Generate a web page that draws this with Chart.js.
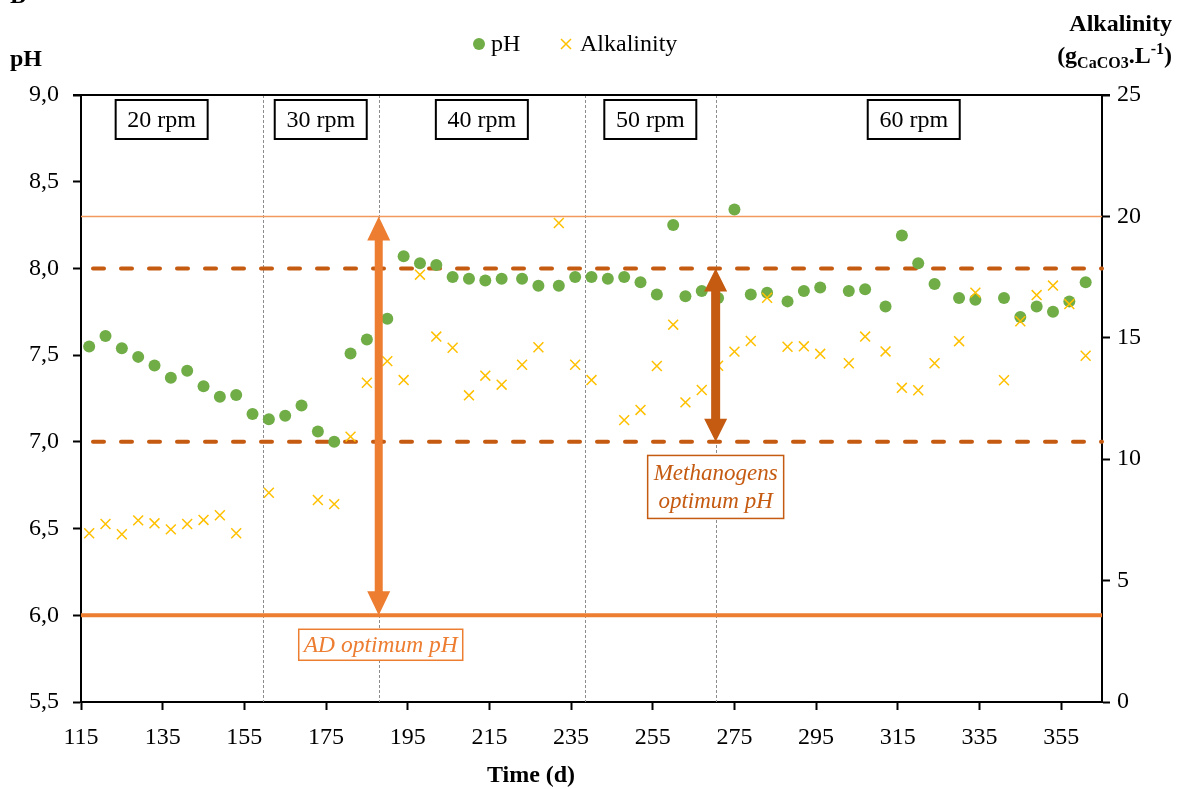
<!DOCTYPE html>
<html>
<head>
<meta charset="utf-8">
<script src="https://cdn.jsdelivr.net/npm/chart.js@4.4.1/dist/chart.umd.min.js"></script>
<style>body{margin:0;background:#fff}</style>
</head>
<body>
<canvas id="vis" width="1186" height="789"></canvas>
<script>
// sampling days (d)
const days = [117,121,125,129,133,137,141,145,149,153,157,161,165,169,173,177,181,185,190,194,
  198,202,206,210,214,218,223,227,232,236,240,244,248,252,256,260,263,267,271,275,
  279,283,288,292,296,303,307,312,316,320,324,330,334,341,345,349,353,357,361];
const ph = [7.55,7.61,7.54,7.49,7.44,7.37,7.41,7.32,7.26,7.27,7.16,7.13,7.15,7.21,7.06,7.00,7.51,7.59,7.71,8.07,
  8.03,8.02,7.95,7.94,7.93,7.94,7.94,7.90,7.90,7.95,7.95,7.94,7.95,7.92,7.85,8.25,7.84,7.87,7.83,8.34,
  7.85,7.86,7.81,7.87,7.89,7.87,7.88,7.78,8.19,8.03,7.91,7.83,7.82,7.83,7.72,7.78,7.75,7.81,7.92];
const alkalinity = [6.95,7.33,6.91,7.48,7.36,7.11,7.33,7.50,7.69,6.95,null,8.62,null,null,8.32,8.15,10.93,13.15,14.04,13.26,
  17.60,15.05,14.59,12.63,13.44,13.07,13.89,14.61,19.73,13.89,13.26,null,11.61,12.03,13.84,15.54,12.34,12.85,13.85,14.43,
  14.87,16.65,14.63,14.65,14.34,13.95,15.05,14.44,12.94,12.84,13.95,14.86,16.86,13.25,15.68,16.76,17.15,16.39,14.26];
const xTicks = [115,135,155,175,195,215,235,255,275,295,315,335,355];
const phases = ['20 rpm','30 rpm','40 rpm','50 rpm','60 rpm'];
const phaseBounds = [110,159.5,187.9,238.4,270.4,367.4];
// pH ranges
const adRange = [6.0, 8.3];
const methRange = [7.0, 8.0];

const SERIF = "'Liberation Serif', 'Times New Roman', serif";
const ORANGE = '#ED7D31';
const DARK = '#C55A11';

function arrow(ctx, px, y1, y2, shaft, headW, headL, color) {
  ctx.fillStyle = color;
  ctx.beginPath();
  ctx.moveTo(px, y1);
  ctx.lineTo(px + headW / 2, y1 + headL);
  ctx.lineTo(px + shaft / 2, y1 + headL);
  ctx.lineTo(px + shaft / 2, y2 - headL);
  ctx.lineTo(px + headW / 2, y2 - headL);
  ctx.lineTo(px, y2);
  ctx.lineTo(px - headW / 2, y2 - headL);
  ctx.lineTo(px - shaft / 2, y2 - headL);
  ctx.lineTo(px - shaft / 2, y1 + headL);
  ctx.lineTo(px - headW / 2, y1 + headL);
  ctx.closePath();
  ctx.fill();
}

function textBox(ctx, lines, cx, cy, w, h, color, font, lw) {
  ctx.fillStyle = '#fff';
  ctx.fillRect(cx - w / 2, cy - h / 2, w, h);
  ctx.strokeStyle = color;
  ctx.lineWidth = lw;
  ctx.strokeRect(cx - w / 2, cy - h / 2, w, h);
  ctx.fillStyle = color;
  ctx.font = font;
  ctx.textAlign = 'center';
  ctx.textBaseline = 'middle';
  const lh = 28;
  lines.forEach((t, i) => ctx.fillText(t, cx, cy + (i - (lines.length - 1) / 2) * lh + 1));
}

const annot = {
  id: 'annot',
  beforeDatasetsDraw(chart) {
    const {ctx, chartArea: a, scales: {x, y}} = chart;
    ctx.save();
    // phase dividers
    ctx.strokeStyle = '#8C8C8C';
    ctx.lineWidth = 1;
    ctx.setLineDash([3, 2]);
    phaseBounds.slice(1, -1).forEach(d => {
      const px = Math.round(x.getPixelForValue(d)) + 0.5;
      ctx.beginPath(); ctx.moveTo(px, a.top); ctx.lineTo(px, a.bottom); ctx.stroke();
    });
    ctx.setLineDash([]);
    // AD optimum range
    ctx.strokeStyle = '#F29A5E';
    ctx.lineWidth = 1.5;
    let py = y.getPixelForValue(adRange[1]);
    ctx.beginPath(); ctx.moveTo(a.left, py); ctx.lineTo(a.right, py); ctx.stroke();
    ctx.strokeStyle = ORANGE;
    ctx.lineWidth = 4;
    py = y.getPixelForValue(adRange[0]);
    ctx.beginPath(); ctx.moveTo(a.left, py); ctx.lineTo(a.right, py); ctx.stroke();
    // methanogens range
    ctx.strokeStyle = DARK;
    ctx.lineWidth = 4;
    ctx.lineCap = 'round';
    ctx.setLineDash([11, 17]);
    methRange.forEach(v => {
      const p = y.getPixelForValue(v);
      ctx.beginPath(); ctx.moveTo(a.left + 12, p); ctx.lineTo(a.right, p); ctx.stroke();
    });
    ctx.restore();
  },
  afterDatasetsDraw(chart) {
    const {ctx, chartArea: a, scales: {x, y}} = chart;
    ctx.save();
    const ax = x.getPixelForValue(phaseBounds[2]);
    arrow(ctx, ax, y.getPixelForValue(adRange[1]), y.getPixelForValue(adRange[0]), 8, 23, 24, ORANGE);
    const mx = x.getPixelForValue(phaseBounds[4]);
    arrow(ctx, mx, y.getPixelForValue(methRange[1]), y.getPixelForValue(methRange[0]), 9, 23, 23, DARK);
    textBox(ctx, ['AD optimum pH'], ax + 2, y.getPixelForValue(5.83), 164, 31, ORANGE, 'italic 23.5px ' + SERIF, 1.5);
    textBox(ctx, ['Methanogens', 'optimum pH'], mx, y.getPixelForValue(6.74), 136, 63, DARK, 'italic 23px ' + SERIF, 1.5);
    // rpm labels
    phases.forEach((t, i) => {
      const cx = x.getPixelForValue((phaseBounds[i] + phaseBounds[i + 1]) / 2);
      textBox(ctx, [t], cx, a.top + 24.5, 92, 39, '#000', '24px ' + SERIF, 2);
    });
    ctx.restore();
  },
  afterDraw(chart) {
    const {ctx, chartArea: a} = chart;
    ctx.save();
    ctx.strokeStyle = '#000';
    ctx.lineWidth = 2;
    ctx.beginPath(); ctx.moveTo(a.left - 8, a.top); ctx.lineTo(a.right + 8, a.top); ctx.stroke();
    // legend
    ctx.fillStyle = '#70AD47';
    ctx.beginPath(); ctx.arc(479, 44, 6, 0, Math.PI * 2); ctx.fill();
    ctx.strokeStyle = '#FFC000';
    ctx.lineWidth = 1.5;
    ctx.beginPath();
    ctx.moveTo(561, 39); ctx.lineTo(571, 49);
    ctx.moveTo(571, 39); ctx.lineTo(561, 49);
    ctx.stroke();
    ctx.fillStyle = '#000';
    ctx.font = '24px ' + SERIF;
    ctx.textAlign = 'left';
    ctx.textBaseline = 'middle';
    ctx.fillText('pH', 491, 45);
    ctx.fillText('Alkalinity', 580, 45);
    // titles
    ctx.font = 'bold 24px ' + SERIF;
    ctx.textBaseline = 'alphabetic';
    ctx.fillText('B', 10, 3);
    ctx.fillText('pH', 10, 66);
    ctx.textAlign = 'center';
    ctx.fillText('Time (d)', 531, 782);
    ctx.textAlign = 'right';
    ctx.fillText('Alkalinity', 1172, 31);
    // (gCaCO3.L-1)
    const parts = [
      ['(g', 'bold 24px ', 0], ['CaCO3', 'bold 16px ', 5], ['.L', 'bold 24px ', 0],
      ['-1', 'bold 16px ', -9], [')', 'bold 24px ', 0]
    ];
    ctx.textAlign = 'left';
    let w = 0;
    parts.forEach(p => { ctx.font = p[1] + SERIF; w += ctx.measureText(p[0]).width; });
    let px = 1172 - w;
    parts.forEach(p => {
      ctx.font = p[1] + SERIF;
      ctx.fillText(p[0], px, 63 + p[2]);
      px += ctx.measureText(p[0]).width;
    });
    ctx.restore();
  }
};

const tickFont = {family: SERIF, size: 24};
const axisGrid = {drawOnChartArea: false, drawTicks: true, tickLength: 8, tickColor: '#000', tickWidth: 2};
const axisBorder = {display: true, color: '#000', width: 2};

new Chart(document.getElementById('vis').getContext('2d'), {
  type: 'scatter',
  data: {
    datasets: [
      {
        label: 'pH',
        data: days.map((d, i) => ({x: d, y: ph[i]})),
        yAxisID: 'y',
        order: 1,
        pointStyle: 'circle',
        pointRadius: 6,
        backgroundColor: '#70AD47',
        borderWidth: 0
      },
      {
        label: 'Alkalinity',
        data: days.map((d, i) => ({x: d, y: alkalinity[i]})).filter(p => p.y !== null),
        yAxisID: 'y1',
        order: 0,
        pointStyle: 'crossRot',
        pointRadius: 7,
        borderColor: '#FFC000',
        backgroundColor: '#FFC000',
        borderWidth: 1.5
      }
    ]
  },
  options: {
    responsive: false,
    animation: false,
    layout: {padding: {top: 95, left: 0, right: 0, bottom: 0}},
    plugins: {legend: {display: false}, tooltip: {enabled: false}},
    scales: {
      x: {
        type: 'linear',
        min: 115,
        max: 365,
        afterBuildTicks: s => { s.ticks = xTicks.map(v => ({value: v})); },
        afterFit: s => { s.height = 87; },
        ticks: {font: tickFont, color: '#000', padding: 13, maxRotation: 0, autoSkip: false},
        grid: axisGrid,
        border: axisBorder
      },
      y: {
        position: 'left',
        min: 5.5,
        max: 9,
        afterFit: s => { s.width = 81; },
        ticks: {stepSize: 0.5, font: tickFont, color: '#000', padding: 14,
          callback: v => v.toFixed(1).replace('.', ',')},
        grid: axisGrid,
        border: axisBorder
      },
      y1: {
        position: 'right',
        min: 0,
        max: 25,
        afterFit: s => { s.width = 84; },
        ticks: {stepSize: 5, font: tickFont, color: '#000', padding: 7},
        grid: axisGrid,
        border: axisBorder
      }
    }
  },
  plugins: [annot]
});
</script>
</body>
</html>
